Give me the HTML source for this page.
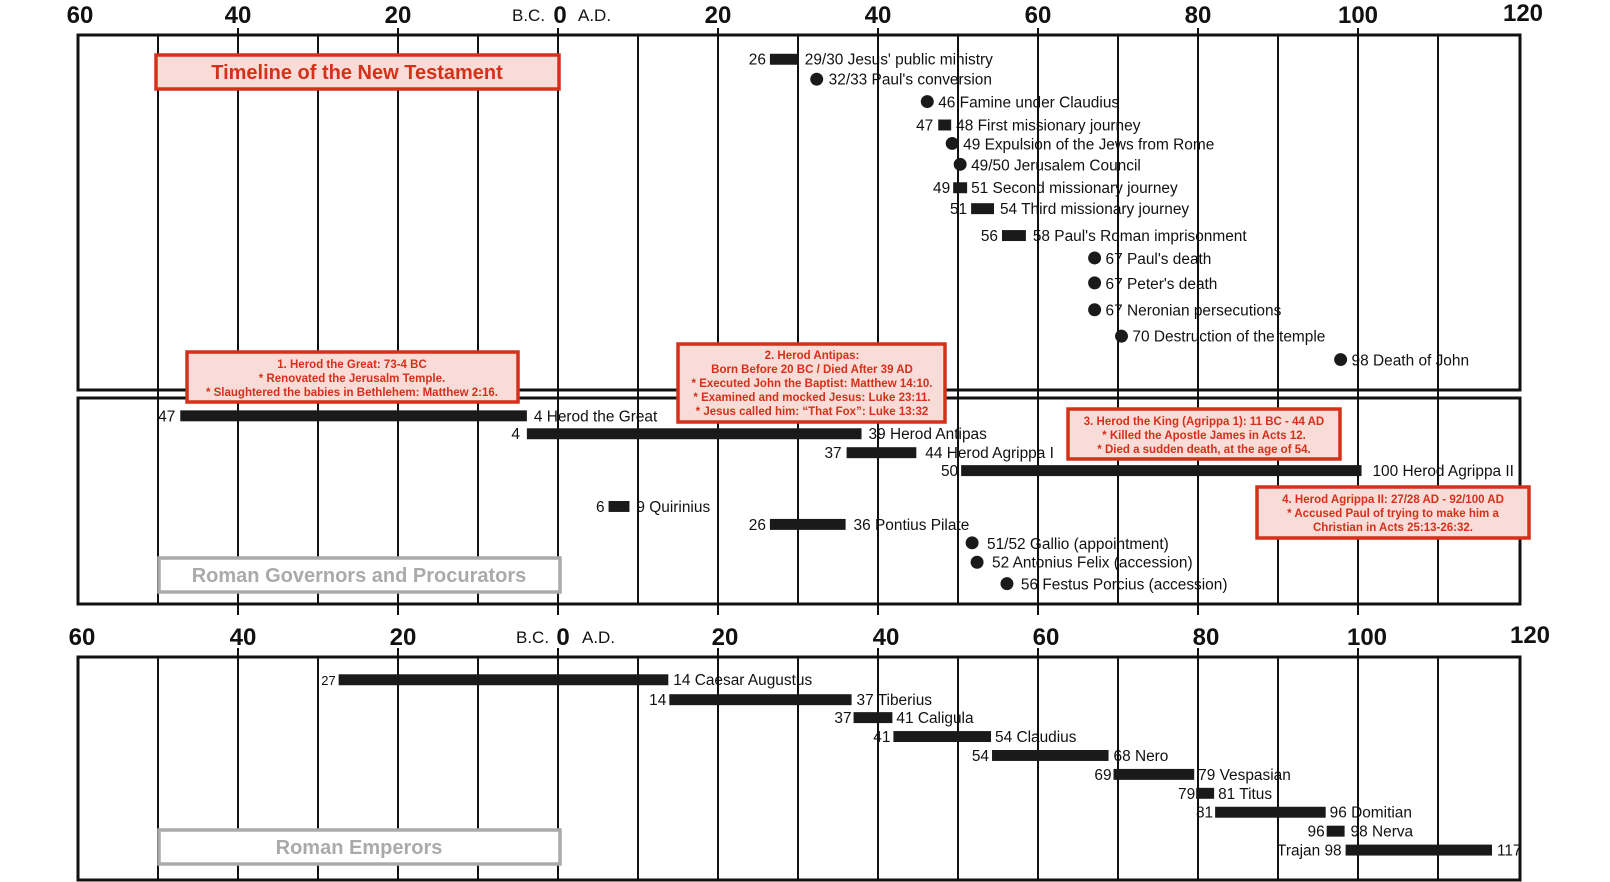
<!DOCTYPE html>
<html><head><meta charset="utf-8"><style>
html,body{margin:0;padding:0;background:#fff;}
svg{display:block;}
.t{font-family:"Liberation Sans",sans-serif;font-size:15.5px;fill:#111;}
.ax{font-family:"Liberation Sans",sans-serif;font-size:24px;font-weight:bold;fill:#111;text-anchor:middle;}
.bc{font-family:"Liberation Sans",sans-serif;font-size:17px;fill:#111;}
.r{font-family:"Liberation Sans",sans-serif;font-size:11.5px;font-weight:bold;fill:#d4301a;text-anchor:middle;}
.g{font-family:"Liberation Sans",sans-serif;font-size:20px;font-weight:bold;fill:#aaa;text-anchor:middle;}
</style></head><body>
<svg width="1610" height="882" viewBox="0 0 1610 882" xmlns="http://www.w3.org/2000/svg">
<rect width="1610" height="882" fill="#fff"/>
<g stroke="#111" stroke-width="2">
<line x1="158" y1="34" x2="158" y2="604"/><line x1="238" y1="28" x2="238" y2="615"/>
<line x1="318" y1="34" x2="318" y2="604"/><line x1="398" y1="28" x2="398" y2="615"/>
<line x1="478" y1="34" x2="478" y2="604"/><line x1="558" y1="28" x2="558" y2="615"/>
<line x1="638" y1="34" x2="638" y2="604"/><line x1="718" y1="28" x2="718" y2="615"/>
<line x1="798" y1="34" x2="798" y2="604"/><line x1="878" y1="28" x2="878" y2="615"/>
<line x1="958" y1="34" x2="958" y2="604"/><line x1="1038" y1="28" x2="1038" y2="615"/>
<line x1="1118" y1="34" x2="1118" y2="604"/><line x1="1198" y1="28" x2="1198" y2="615"/>
<line x1="1278" y1="34" x2="1278" y2="604"/><line x1="1358" y1="28" x2="1358" y2="615"/>
<line x1="1438" y1="34" x2="1438" y2="604"/>
<line x1="158" y1="656" x2="158" y2="880"/><line x1="238" y1="648" x2="238" y2="880"/>
<line x1="318" y1="656" x2="318" y2="880"/><line x1="398" y1="648" x2="398" y2="880"/>
<line x1="478" y1="656" x2="478" y2="880"/><line x1="558" y1="648" x2="558" y2="880"/>
<line x1="638" y1="656" x2="638" y2="880"/><line x1="718" y1="648" x2="718" y2="880"/>
<line x1="798" y1="656" x2="798" y2="880"/><line x1="878" y1="648" x2="878" y2="880"/>
<line x1="958" y1="656" x2="958" y2="880"/><line x1="1038" y1="648" x2="1038" y2="880"/>
<line x1="1118" y1="656" x2="1118" y2="880"/><line x1="1198" y1="648" x2="1198" y2="880"/>
<line x1="1278" y1="656" x2="1278" y2="880"/><line x1="1358" y1="648" x2="1358" y2="880"/>
<line x1="1438" y1="656" x2="1438" y2="880"/>
</g>
<g fill="none" stroke="#111" stroke-width="3">
<rect x="78" y="35" width="1442" height="355"/>
<rect x="78" y="398" width="1442" height="206"/>
<rect x="78" y="657" width="1442" height="223"/>
</g>
<g class="ax">
<text x="80" y="23">60</text><text x="238" y="23">40</text><text x="398" y="23">20</text><text x="560" y="23">0</text>
<text x="718" y="23">20</text><text x="878" y="23">40</text><text x="1038" y="23">60</text><text x="1198" y="23">80</text>
<text x="1358" y="23">100</text><text x="1523" y="21">120</text>
<text x="82" y="645">60</text><text x="243" y="645">40</text><text x="403" y="645">20</text><text x="563" y="645">0</text>
<text x="725" y="645">20</text><text x="886" y="645">40</text><text x="1046" y="645">60</text><text x="1206" y="645">80</text>
<text x="1367" y="645">100</text><text x="1530" y="643">120</text>
</g>
<text class="bc" x="512" y="21">B.C.</text><text class="bc" x="578" y="21">A.D.</text>
<text class="bc" x="516" y="643">B.C.</text><text class="bc" x="582" y="643">A.D.</text>
<g transform="scale(0.996)">
<g fill="#1a1a1a">
<rect x="773" y="54" width="28" height="11"/>
<circle cx="820" cy="79.5" r="6.5"/>
<circle cx="931" cy="102" r="6.5"/>
<rect x="942" y="120" width="13" height="11"/>
<circle cx="956" cy="144" r="6.5"/>
<circle cx="964" cy="165" r="6.5"/>
<rect x="957" y="183" width="14" height="11"/>
<rect x="975" y="204" width="23" height="11"/>
<rect x="1006" y="231" width="24" height="11"/>
<circle cx="1099" cy="259" r="6.5"/>
<circle cx="1099" cy="284" r="6.5"/>
<circle cx="1099" cy="311" r="6.5"/>
<circle cx="1126" cy="337.5" r="6.5"/>
<circle cx="1346" cy="361" r="6.5"/>
<rect x="181" y="412" width="348" height="11"/>
<rect x="529" y="430" width="336" height="11"/>
<rect x="850" y="449" width="70" height="11"/>
<rect x="965" y="467" width="402" height="11"/>
<rect x="611" y="503" width="21" height="11"/>
<rect x="773" y="521" width="76" height="11"/>
<circle cx="976" cy="545" r="6.5"/>
<circle cx="981" cy="564.5" r="6.5"/>
<circle cx="1011" cy="586" r="6.5"/>
<rect x="340" y="677" width="331" height="11"/>
<rect x="672" y="697" width="183" height="11"/>
<rect x="857" y="715" width="39" height="11"/>
<rect x="897" y="734" width="98" height="11"/>
<rect x="996" y="753" width="117" height="11"/>
<rect x="1118" y="772" width="81" height="11"/>
<rect x="1201" y="791" width="18" height="11"/>
<rect x="1220" y="810" width="111" height="11"/>
<rect x="1332" y="829" width="18" height="11"/>
<rect x="1351" y="848" width="147" height="11"/>
</g>
<g class="t">
<text x="769" y="65" text-anchor="end">26</text><text x="808" y="65">29/30 Jesus' public ministry</text>
<text x="832" y="85">32/33 Paul's conversion</text>
<text x="942" y="108">46 Famine under Claudius</text>
<text x="937" y="131" text-anchor="end">47</text><text x="960" y="131">48 First missionary journey</text>
<text x="967" y="150">49 Expulsion of the Jews from Rome</text>
<text x="975" y="171">49/50 Jerusalem Council</text>
<text x="954" y="194" text-anchor="end">49</text><text x="975" y="194">51 Second missionary journey</text>
<text x="971" y="215" text-anchor="end">51</text><text x="1004" y="215">54 Third missionary journey</text>
<text x="1002" y="242" text-anchor="end">56</text><text x="1037" y="242">58 Paul's Roman imprisonment</text>
<text x="1110" y="265">67 Paul's death</text>
<text x="1110" y="290">67 Peter's death</text>
<text x="1110" y="317">67 Neronian persecutions</text>
<text x="1137" y="343">70 Destruction of the temple</text>
<text x="1357" y="367">98 Death of John</text>
<text x="176" y="423" text-anchor="end">47</text><text x="536" y="423">4 Herod the Great</text>
<text x="522" y="441" text-anchor="end">4</text><text x="872" y="441">39 Herod Antipas</text>
<text x="845" y="460" text-anchor="end">37</text><text x="929" y="460">44 Herod Agrippa I</text>
<text x="962" y="478" text-anchor="end">50</text><text x="1378" y="478">100 Herod Agrippa II</text>
<text x="607" y="514" text-anchor="end">6</text><text x="639" y="514">9 Quirinius</text>
<text x="769" y="532" text-anchor="end">26</text><text x="857" y="532">36 Pontius Pilate</text>
<text x="991" y="551">51/52 Gallio (appointment)</text>
<text x="996" y="570">52 Antonius Felix (accession)</text>
<text x="1025" y="592">56 Festus Porcius (accession)</text>
<text x="337" y="688" text-anchor="end" style="font-size:13px">27</text><text x="676" y="688">14 Caesar Augustus</text>
<text x="669" y="708" text-anchor="end">14</text><text x="860" y="708">37 Tiberius</text>
<text x="855" y="726" text-anchor="end">37</text><text x="900" y="726">41 Caligula</text>
<text x="894" y="745" text-anchor="end">41</text><text x="999" y="745">54 Claudius</text>
<text x="993" y="764" text-anchor="end">54</text><text x="1118" y="764">68 Nero</text>
<text x="1116" y="783" text-anchor="end">69</text><text x="1203" y="783">79 Vespasian</text>
<text x="1200" y="802" text-anchor="end">79</text><text x="1223" y="802">81 Titus</text>
<text x="1218" y="821" text-anchor="end">81</text><text x="1335" y="821">96 Domitian</text>
<text x="1330" y="840" text-anchor="end">96</text><text x="1356" y="840">98 Nerva</text>
<text x="1347" y="859" text-anchor="end">Trajan 98</text><text x="1503" y="859">117</text>
</g>
</g>
<g fill="#f9dcd8" stroke="#d4301a" stroke-width="3.5">
<rect x="156" y="55" width="403" height="34"/>
<rect x="187" y="352" width="331" height="50"/>
<rect x="678" y="344" width="267" height="78"/>
<rect x="1068" y="409" width="272" height="50"/>
<rect x="1257" y="487" width="272" height="51"/>
</g>
<text class="r" x="357" y="79" style="font-size:20px">Timeline of the New Testament</text>
<g class="r">
<text x="352" y="368">1. Herod the Great: 73-4 BC</text>
<text x="352" y="382">* Renovated the Jerusalm Temple.</text>
<text x="352" y="396">* Slaughtered the babies in Bethlehem: Matthew 2:16.</text>
<text x="812" y="359">2. Herod Antipas:</text>
<text x="812" y="373">Born Before 20 BC / Died After 39 AD</text>
<text x="812" y="387">* Executed John the Baptist: Matthew 14:10.</text>
<text x="812" y="401">* Examined and mocked Jesus: Luke 23:11.</text>
<text x="812" y="415">* Jesus called him: “That Fox”: Luke 13:32</text>
<text x="1204" y="425">3. Herod the King (Agrippa 1): 11 BC - 44 AD</text>
<text x="1204" y="439">* Killed the Apostle James in Acts 12.</text>
<text x="1204" y="453">* Died a sudden death, at the age of 54.</text>
<text x="1393" y="503">4. Herod Agrippa II: 27/28 AD - 92/100 AD</text>
<text x="1393" y="517">* Accused Paul of trying to make him a</text>
<text x="1393" y="531">Christian in Acts 25:13-26:32.</text>
</g>
<g fill="#fff" stroke="#aaa" stroke-width="3.5">
<rect x="159" y="558" width="401" height="34"/>
<rect x="159" y="830" width="401" height="34"/>
</g>
<text class="g" x="359" y="582">Roman Governors and Procurators</text>
<text class="g" x="359" y="854">Roman Emperors</text>
</svg>
</body></html>
